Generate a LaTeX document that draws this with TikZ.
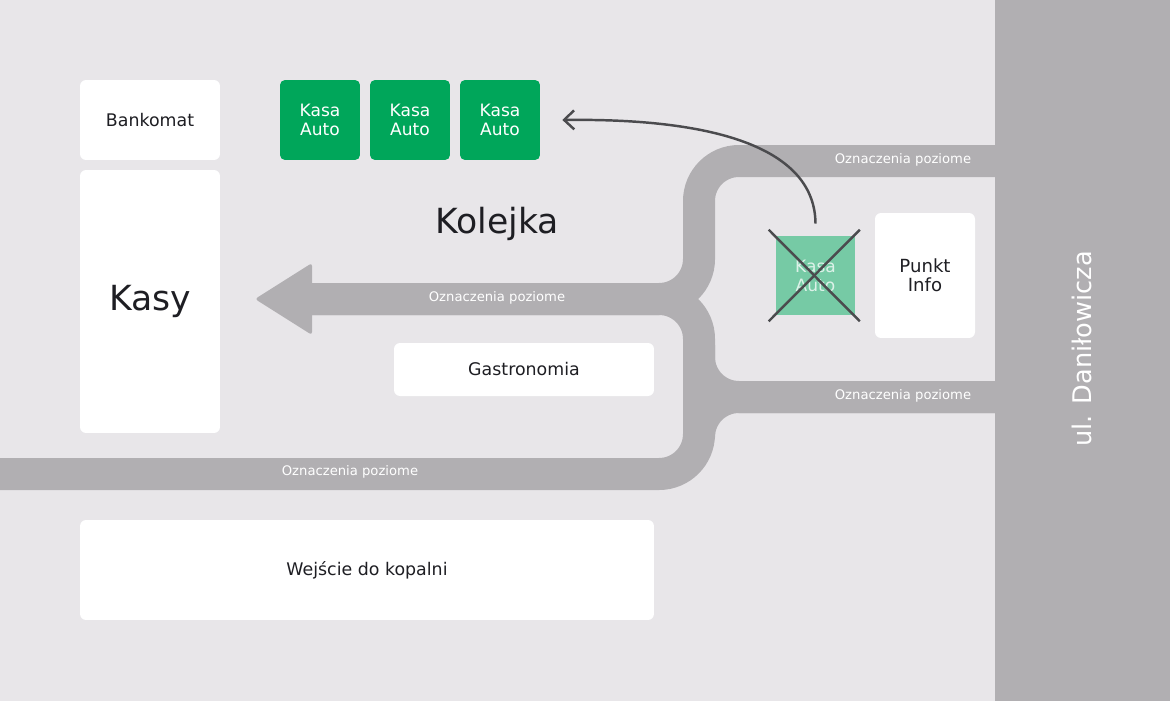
\documentclass[tikz,border=0pt]{standalone}
\usepackage{fontspec}
\setmainfont{DejaVu Sans}
\usetikzlibrary{arrows.meta}
\definecolor{bg}{RGB}{232,230,233}
\definecolor{road}{RGB}{177,175,178}
\definecolor{kgreen}{RGB}{0,166,90}
\definecolor{kfaded}{RGB}{118,202,165}
\definecolor{ink}{RGB}{30,30,35}
\definecolor{arr}{RGB}{75,75,78}
\begin{document}
\begin{tikzpicture}[x=0.02cm,y=-0.02cm,
  roadline/.style={draw=road, line width=0.64cm, rounded corners=0.8cm},
  roadtxt/.style={text=white, font=\fontsize{7.5}{9}\selectfont, inner sep=0pt},
  wbox/.style={fill=white, rounded corners=0.12cm, text=ink, font=\fontsize{9.9}{12}\selectfont, inner sep=0pt, align=center},
  gbox/.style={fill=kgreen, rounded corners=0.1cm, text=white, font=\fontsize{9.7}{10.8}\selectfont, inner sep=0pt, align=center, minimum width=1.6cm, minimum height=1.6cm},
  bigtxt/.style={text=ink, font=\fontsize{19.7}{24}\selectfont, inner sep=0pt},
  crossline/.style={draw=arr, line width=1.4pt},
  flow/.style={draw=arr, line width=1.4pt, -{Straight Barb[length=0.2cm,width=0.38cm]}}
]
\useasboundingbox (0,0) rectangle (1170,700);
% background
\fill[bg] (-2,-2) rectangle (1172,702);
% street
\fill[road] (995,-2) rectangle (1172,702);
% roads
\draw[roadline] (995,161) -- (699,161) -- (699,299) -- (300,299);
\draw[roadline] (300,299) -- (699,299) -- (699,474) -- (-2,474);
\draw[roadline] (995,397) -- (699,397) -- (699,345);
\draw[roadline] (995,397) -- (699,397) -- (699,437);
\fill[road, rounded corners=0.06cm] (312,263) -- (255,299) -- (312,335) -- cycle;
% road labels
\node[roadtxt] (r1) at (903,160) {Oznaczenia poziome};
\node[roadtxt] (r2) at (497,298) {Oznaczenia poziome};
\node[roadtxt] (r3) at (903,396) {Oznaczenia poziome};
\node[roadtxt] (r4) at (350,472) {Oznaczenia poziome};
\node[font=\fontsize{14.6}{17}\selectfont, text=white, rotate=90, inner sep=0pt] (street) at (1082,349) {ul. Daniłowicza};
% boxes
\node[wbox, minimum width=2.8cm, minimum height=1.6cm] (bank) at (150,120) {Bankomat};
\node[wbox, minimum width=2.8cm, minimum height=5.26cm, font=\fontsize{19.7}{24}\selectfont] (kasy) at (150,301.5) {Kasy};
\node[gbox] (kasa1) at (320,120) {Kasa\\Auto};
\node[gbox] (kasa2) at (410,120) {Kasa\\Auto};
\node[gbox] (kasa3) at (500,120) {Kasa\\Auto};
\node[bigtxt] (kolejka) at (497,224) {Kolejka};
\node[wbox, minimum width=2cm, minimum height=2.5cm, font=\fontsize{10.3}{11}\selectfont] (punkt) at (925,275.5) {Punkt\\Info};
\node[wbox, minimum width=5.2cm, minimum height=1.06cm] (gastro) at (524,369.5) {Gastronomia};
\node[wbox, minimum width=11.48cm, minimum height=2cm] (wejscie) at (367,570) {Wejście do kopalni};
% crossed-out machine
\node[fill=kfaded, minimum width=1.58cm, minimum height=1.58cm, inner sep=0pt, text=white, text opacity=0.75, font=\fontsize{9.7}{10.8}\selectfont, align=center] (cross) at (815.5,275.5) {Kasa\\Auto};
\draw[crossline] ([xshift=-0.14cm,yshift=0.12cm]cross.north west) -- ([xshift=0.09cm,yshift=-0.12cm]cross.south east);
\draw[crossline] ([xshift=0.09cm,yshift=0.12cm]cross.north east) -- ([xshift=-0.14cm,yshift=-0.12cm]cross.south west);
% arrow
\draw[flow] ([yshift=0.24cm]cross.north) .. controls (815,150) and (720,118) .. ([xshift=0.44cm]kasa3.east);
\end{tikzpicture}
\end{document}
